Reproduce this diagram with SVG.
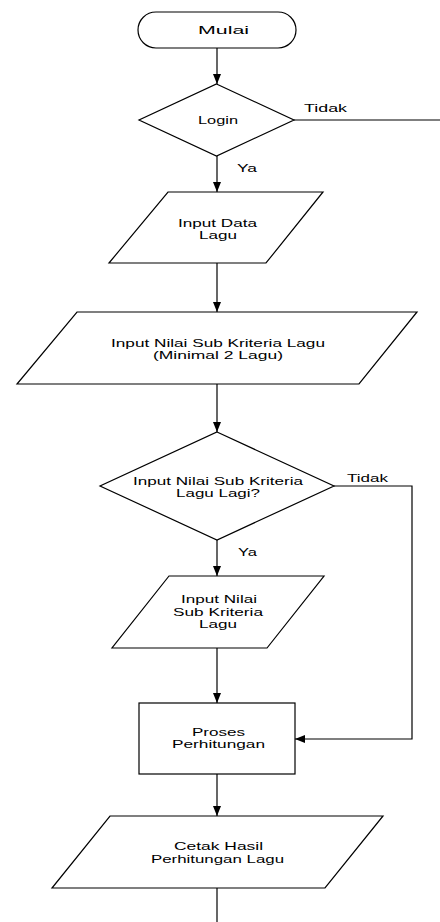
<svg xmlns="http://www.w3.org/2000/svg" width="440" height="922" viewBox="0 0 440 922">
<style>
.s{fill:#fff;stroke:#000;stroke-width:1.2}
.c{fill:none;stroke:#000;stroke-width:1.2}
text{font-family:"Liberation Sans",Arial,sans-serif;font-size:10.5px;fill:#000}
</style>
<defs>
<marker id="ah" markerWidth="10" markerHeight="8" refX="10" refY="4" orient="auto" markerUnits="userSpaceOnUse">
<path d="M0,0 L10,4 L0,8 Z" fill="#000"/>
</marker>
</defs>
<rect width="440" height="922" fill="#fff"/>
<g id="connectors">
<line class="c" x1="217" y1="48" x2="217" y2="84" marker-end="url(#ah)"/>
<line class="c" x1="217" y1="156" x2="217" y2="192" marker-end="url(#ah)"/>
<line class="c" x1="294" y1="120" x2="440" y2="120"/>
<line class="c" x1="217" y1="263" x2="217" y2="312" marker-end="url(#ah)"/>
<line class="c" x1="217" y1="384" x2="217" y2="432" marker-end="url(#ah)"/>
<line class="c" x1="217" y1="540" x2="217" y2="576" marker-end="url(#ah)"/>
<polyline class="c" points="334,486 412,486 412,739 295,739" marker-end="url(#ah)"/>
<line class="c" x1="217" y1="648" x2="217" y2="703" marker-end="url(#ah)"/>
<line class="c" x1="217" y1="774" x2="217" y2="816" marker-end="url(#ah)"/>
<line class="c" x1="217" y1="888" x2="217" y2="922"/>
<text x="304" y="112" textLength="43" lengthAdjust="spacingAndGlyphs">Tidak</text>
<text x="237" y="171.5" textLength="20" lengthAdjust="spacingAndGlyphs">Ya</text>
<text x="347" y="482" textLength="41" lengthAdjust="spacingAndGlyphs">Tidak</text>
<text x="238" y="556" textLength="19" lengthAdjust="spacingAndGlyphs">Ya</text>
</g>
<g id="mulai">
<rect class="s" x="138" y="12" width="158" height="36" rx="18" ry="18"/>
<text x="198" y="34" textLength="51" lengthAdjust="spacingAndGlyphs" style="font-size:11.5px">Mulai</text>
</g>
<g id="login">
<polygon class="s" points="216.5,84 294,120 216.5,156 139,120"/>
<text x="198" y="123.5" textLength="40" lengthAdjust="spacingAndGlyphs" style="font-size:11px">Login</text>
</g>
<g id="input-data">
<polygon class="s" points="168,192 323,192 266,263 109,263"/>
<text x="178" y="226.5" textLength="79" lengthAdjust="spacingAndGlyphs">Input Data</text>
<text x="199" y="238.5" textLength="38" lengthAdjust="spacingAndGlyphs">Lagu</text>
</g>
<g id="input-nilai-min">
<polygon class="s" points="77,312 417,312 359,384 17,384"/>
<text x="111" y="346.5" textLength="214" lengthAdjust="spacingAndGlyphs">Input Nilai Sub Kriteria Lagu</text>
<text x="153" y="358.5" textLength="130" lengthAdjust="spacingAndGlyphs">(Minimal 2 Lagu)</text>
</g>
<g id="decision-lagi">
<polygon class="s" points="217,432 334,486 217,540 100,486"/>
<text x="133" y="484.5" textLength="170" lengthAdjust="spacingAndGlyphs">Input Nilai Sub Kriteria</text>
<text x="176" y="496.5" textLength="84" lengthAdjust="spacingAndGlyphs">Lagu Lagi?</text>
</g>
<g id="input-nilai">
<polygon class="s" points="169,576 324,576 267,648 112,648"/>
<text x="181" y="603" textLength="76" lengthAdjust="spacingAndGlyphs">Input Nilai</text>
<text x="173" y="615.5" textLength="90" lengthAdjust="spacingAndGlyphs">Sub Kriteria</text>
<text x="199" y="628" textLength="38" lengthAdjust="spacingAndGlyphs">Lagu</text>
</g>
<g id="proses">
<rect class="s" x="139" y="703" width="156" height="71"/>
<text x="192" y="736" textLength="53" lengthAdjust="spacingAndGlyphs">Proses</text>
<text x="172" y="748" textLength="93" lengthAdjust="spacingAndGlyphs">Perhitungan</text>
</g>
<g id="cetak">
<polygon class="s" points="110,816 383,816 325,888 52,888"/>
<text x="174" y="850" textLength="89" lengthAdjust="spacingAndGlyphs">Cetak Hasil</text>
<text x="151" y="863" textLength="133" lengthAdjust="spacingAndGlyphs">Perhitungan Lagu</text>
</g>
</svg>
